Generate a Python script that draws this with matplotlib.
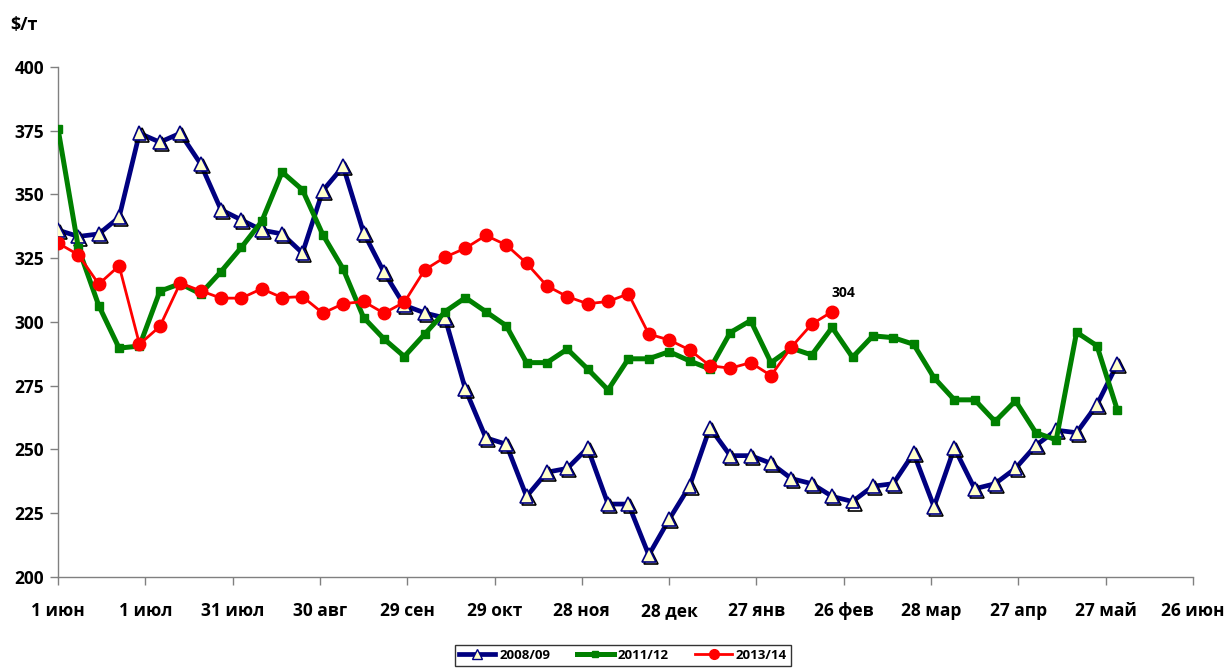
import numpy as np
import matplotlib
matplotlib.use("Agg")
import matplotlib.pyplot as plt
from matplotlib.lines import Line2D
import matplotlib.patheffects as pe

plt.rcParams['font.family'] = ['Open Sans', 'DejaVu Sans']
plt.rcParams['font.weight'] = 'bold'

# ---- data (weekly prices, $/т) ----
s2008 = [336, 333.5, 334.5, 341, 374, 370.5, 374, 362, 344, 340, 336, 334.5, 327,
         351.5, 361, 335, 319.5, 306.5, 303.5, 301.5, 273.5, 254.5, 252, 231.5, 241,
         242.5, 250.5, 228.5, 228.5, 208.5, 222.5, 235.5, 258.5, 247.5, 247.5, 244.5,
         238.5, 236.5, 231.5, 229.5, 235.5, 236.5, 248.5, 227.5, 250.5, 234.5, 236.5,
         242.5, 251.5, 257.5, 256.5, 267.5, 283.5]
s2011 = [375.8, 329, 306.4, 289.7, 290.5, 312, 315, 311, 319.7, 329.2, 339.4, 358.8,
         351.8, 334.2, 320.7, 301.7, 293.3, 286.4, 295.2, 304, 309.5, 304, 298.5, 284,
         284, 289.3, 281.5, 273.3, 285.5, 285.5, 288.3, 284.7, 281.5, 295.8, 300.5, 284,
         289.7, 287, 297.8, 286.1, 294.5, 293.8, 291.2, 278.1, 269.4, 269.4, 260.9, 269,
         256.5, 253.7, 295.9, 290.6, 265.4]
s2013 = [330.9, 326.3, 314.8, 322, 291.2, 298.2, 315.2, 312.2, 309.3, 309.3, 313, 309.5,
         309.9, 303.4, 307.1, 308, 303.4, 307.7, 320.4, 325.4, 328.9, 333.9, 330.2, 323,
         314.1, 309.9, 307.1, 308, 311, 295.2, 292.9, 289, 282.8, 281.8, 284, 278.9,
         290.1, 299.1, 304]
series_names = ['2008/09', '2011/12', '2013/14']
tick_labels = ['1 июн', '1 июл', '31 июл', '30 авг', '29 сен', '29 окт', '28 ноя',
               '28 дек', '27 янв', '26 фев', '28 мар', '27 апр', '27 май', '26 июн']
tick_days = [0, 30, 60, 90, 120, 150, 180, 210, 240, 270, 300, 330, 360, 390]
y_ticks = [200, 225, 250, 275, 300, 325, 350, 375, 400]
last_label = '304'
step_days = 7

fig = plt.figure(figsize=(12.26, 6.70), dpi=100)
ax = fig.add_axes([58/1226, 1-576.7/670, (1193-58)/1226, (576.7-67)/670])

x08 = np.arange(len(s2008)) * step_days
x11 = np.arange(len(s2011)) * step_days
x13 = np.arange(len(s2013)) * step_days

navy = '#000080'
green = '#008000'
red = '#FF0000'

ax.plot(x08, s2008, color=navy, lw=3.4, zorder=2, solid_joinstyle='round')
ax.plot(x08, s2008, ls='none', marker='^', ms=10, mfc='#FFFFCC', mec=navy, mew=1.2,
        zorder=3,
        path_effects=[pe.SimpleLineShadow(offset=(1.5, -1.5), shadow_color='black', alpha=1),
                      pe.Normal()])
ax.plot(x11, s2011, color=green, lw=3.6, marker='s', ms=6, mfc=green, mec=green, zorder=4)
ax.plot(x13, s2013, color=red, lw=2.0, marker='o', ms=9, mfc=red, mec=red, zorder=5)

ax.annotate(last_label, (x13[-1], s2013[-1]), xytext=(-0.5, 8.5), textcoords='offset points',
            ha='left', va='bottom', fontsize=10, fontweight='bold')

ax.set_xlim(0, 390)
ax.set_ylim(200, 400)
ax.set_xticks(tick_days)
ax.set_xticklabels(tick_labels)
ax.set_yticks(y_ticks)
for s in ['top', 'right']:
    ax.spines[s].set_visible(False)
for s in ['left', 'bottom']:
    ax.spines[s].set_color('#808080')
    ax.spines[s].set_linewidth(1.0)
ax.tick_params(axis='both', colors='#808080', labelcolor='black', labelsize=12.5,
               direction='out', length=6, width=1)
ax.tick_params(axis='x', pad=12)
ax.tick_params(axis='y', pad=4)
for lab in ax.get_xticklabels() + ax.get_yticklabels():
    lab.set_fontweight('bold')

fig.text(10/1226, 1-25/670, '$/т', fontsize=13, fontweight='bold', ha='left', va='center')

handles = [
    Line2D([], [], color=navy, lw=3.4, marker='^', ms=7, mfc='#FFFFCC', mec=navy, mew=1),
    Line2D([], [], color=green, lw=3.6, marker='s', ms=5, mfc=green, mec=green),
    Line2D([], [], color=red, lw=2.0, marker='o', ms=7, mfc=red, mec=red),
]
leg = fig.legend(handles, series_names, loc='upper center', bbox_to_anchor=(0.508, 1-645/670),
                 ncol=3, frameon=True, fancybox=False, edgecolor='black',
                 prop={'weight': 'bold', 'size': 9.5}, handlelength=2.8, columnspacing=2.0,
                 borderpad=0.3, handletextpad=0.3, borderaxespad=0)
leg.get_frame().set_linewidth(1.0)

fig.savefig('out.png', dpi=100)
